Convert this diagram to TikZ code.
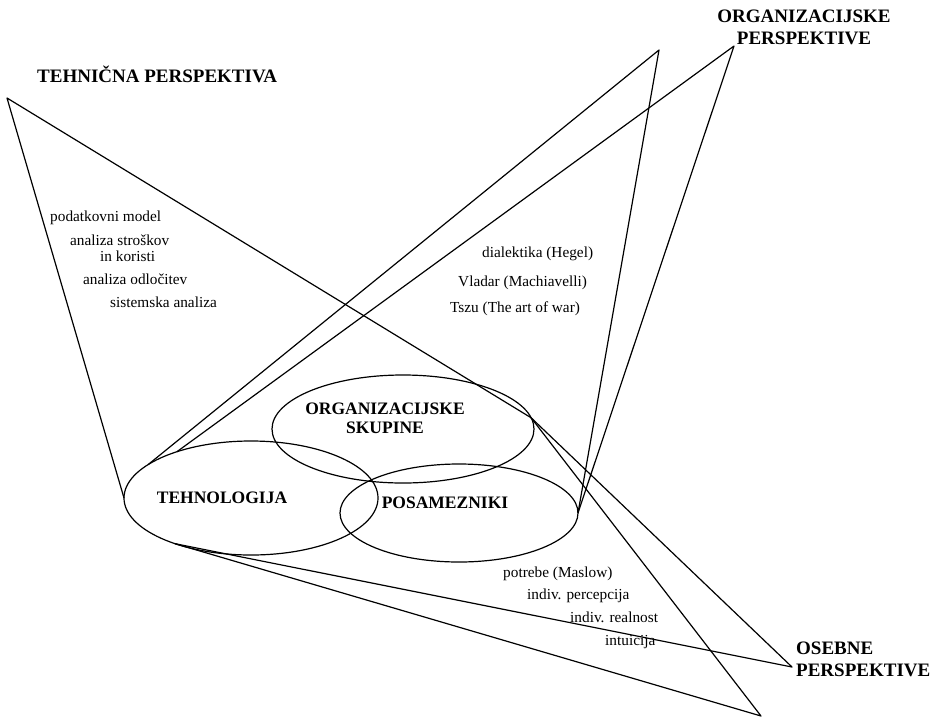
\documentclass[tikz,border=0pt]{standalone}
\usepackage{fontspec}
\setmainfont{Liberation Serif}
\usetikzlibrary{shapes.geometric}
\begin{document}
\begin{tikzpicture}[x=1pt,y=-1pt,
  ell/.style={ellipse, draw, line width=1.2pt, inner sep=0pt, outer sep=0pt},
  cone/.style={line width=1.2pt, line join=round},
  head/.style={font=\fontsize{19}{22}\selectfont\bfseries, inner sep=0pt},
  lab/.style={font=\fontsize{17.5}{19.5}\selectfont\bfseries, inner sep=0pt},
  txt/.style={font=\fontsize{15.3}{18}\selectfont, inner sep=0pt, anchor=base west}]
\useasboundingbox[fill=white] (0,0) rectangle (939,721);

% ellipses
\node[ell, minimum width=254pt, minimum height=114pt] (tech) at (251,498) {};
\node[ell, minimum width=262pt, minimum height=108pt] (org) at (403,429) {};
\node[ell, minimum width=238pt, minimum height=98pt] (pos) at (459,513) {};

% apexes
\coordinate (tp) at (7,98);
\coordinate (op1) at (659,50);
\coordinate (op2) at (734,46);
\coordinate (ospA) at (792,667);
\coordinate (ospB) at (761,716);

% cones
\draw[cone] (tech.west) -- (tp) -- (org.5);
\draw[cone] (tech.162) -- (op1) -- (pos.east);
\draw[cone] (tech.148) -- (op2) -- (pos.east);
\draw[cone] (org.5) -- (ospA) -- (tech.211);
\draw[cone] (org.5) -- (ospB) -- (tech.211);

% headings
\node[head, anchor=base west] (tpl) at (37,82) {TEHNIČNA PERSPEKTIVA};
\node[head, anchor=north, align=center] (opl) at (804,10) {ORGANIZACIJSKE\\PERSPEKTIVE};
\node[head, anchor=north west, align=left] (ospl) at (796,641.5) {OSEBNE\\PERSPEKTIVE};

% ellipse labels
\node[lab, anchor=base] (techl) at (222,503) {TEHNOLOGIJA};
\node[lab, anchor=base] (posl) at (445,508) {POSAMEZNIKI};
\node[lab, anchor=north, align=center] (orgl) at (385,402.5) {ORGANIZACIJSKE\\SKUPINE};

% technical items
\node[txt] (t1) at (50,221) {podatkovni model};
\node[txt] (t2) at (70,245) {analiza stroškov};
\node[txt] (t3) at (100,261) {in koristi};
\node[txt] (t4) at (83,284.5) {analiza odločitev};
\node[txt] (t5) at (110,307.5) {sistemska analiza};

% organizational items
\node[txt] (o1) at (482,257) {dialektika (Hegel)};
\node[txt] (o2) at (458,286) {Vladar (Machiavelli)};
\node[txt] (o3) at (450,312) {Tszu (The art of war)};

% personal items
\node[txt] (p1) at (503,577) {potrebe (Maslow)};
\node[txt] (p2) at (527,599) {indiv. percepcija};
\node[txt] (p3) at (570,622.5) {indiv. realnost};
\node[txt] (p4) at (605,645) {intuicija};
\end{tikzpicture}
\end{document}
